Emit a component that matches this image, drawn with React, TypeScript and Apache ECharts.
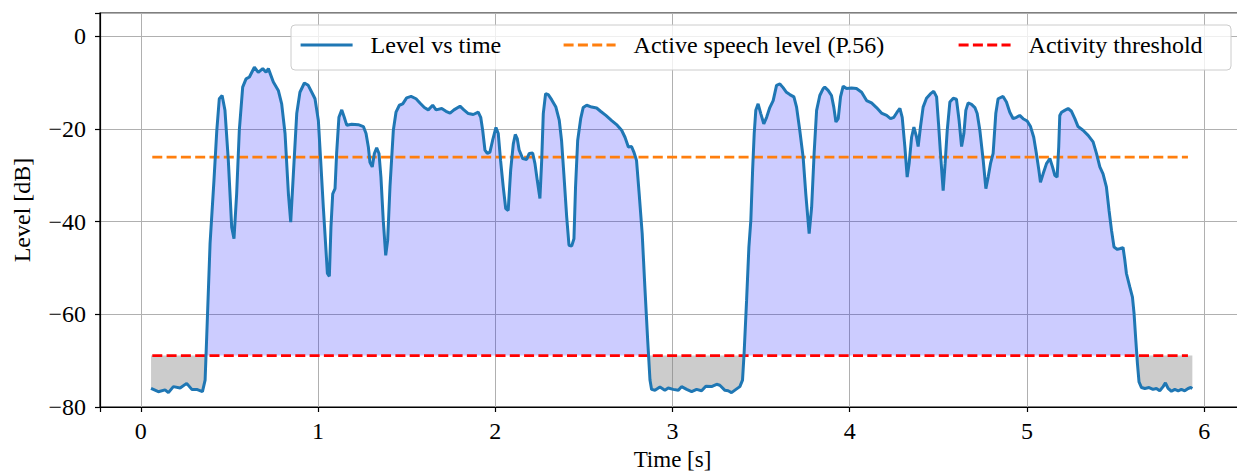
import React, { useEffect, useRef } from "react";
import * as echarts from "echarts";

const times = [
  0.058, 0.099, 0.137, 0.156, 0.184, 0.222, 0.259, 0.288, 0.316, 0.348, 0.363, 0.372, 0.391, 0.413, 0.429, 0.443, 0.459, 0.475, 0.494, 0.513,
  0.526, 0.541, 0.556, 0.575, 0.594, 0.613, 0.641, 0.663, 0.688, 0.707, 0.72, 0.748, 0.776, 0.795, 0.814, 0.833, 0.846, 0.861, 0.88, 0.898,
  0.923, 0.945, 0.974, 0.983, 1.002, 1.015, 1.03, 1.045, 1.053, 1.064, 1.073, 1.083, 1.096, 1.105, 1.118, 1.134, 1.148, 1.162, 1.19, 1.227,
  1.256, 1.271, 1.284, 1.293, 1.306, 1.318, 1.331, 1.344, 1.355, 1.368, 1.382, 1.393, 1.406, 1.425, 1.44, 1.459, 1.478, 1.5, 1.525, 1.553,
  1.575, 1.6, 1.622, 1.647, 1.666, 1.698, 1.722, 1.745, 1.767, 1.801, 1.823, 1.848, 1.876, 1.904, 1.918, 1.929, 1.942, 1.955, 1.97, 1.985,
  2.004, 2.017, 2.03, 2.045, 2.059, 2.073, 2.087, 2.102, 2.113, 2.124, 2.135, 2.155, 2.177, 2.192, 2.211, 2.224, 2.237, 2.252, 2.262, 2.271,
  2.284, 2.299, 2.318, 2.342, 2.361, 2.374, 2.387, 2.403, 2.416, 2.431, 2.444, 2.453, 2.465, 2.482, 2.496, 2.516, 2.544, 2.572, 2.594, 2.624,
  2.657, 2.688, 2.713, 2.732, 2.751, 2.769, 2.782, 2.797, 2.812, 2.829, 2.844, 2.86, 2.873, 2.882, 2.901, 2.929, 2.957, 2.976, 3.004, 3.033,
  3.051, 3.08, 3.108, 3.136, 3.164, 3.188, 3.22, 3.249, 3.267, 3.296, 3.314, 3.333, 3.358, 3.38, 3.395, 3.404, 3.418, 3.431, 3.442, 3.452,
  3.461, 3.47, 3.483, 3.498, 3.515, 3.531, 3.549, 3.568, 3.587, 3.606, 3.624, 3.643, 3.662, 3.685, 3.7, 3.718, 3.737, 3.752, 3.771, 3.785,
  3.799, 3.813, 3.831, 3.85, 3.859, 3.878, 3.897, 3.91, 3.922, 3.935, 3.948, 3.963, 3.982, 4.01, 4.038, 4.067, 4.095, 4.123, 4.151, 4.179,
  4.208, 4.23, 4.249, 4.267, 4.283, 4.296, 4.311, 4.324, 4.335, 4.349, 4.362, 4.377, 4.386, 4.399, 4.414, 4.433, 4.456, 4.474, 4.49, 4.501,
  4.512, 4.527, 4.538, 4.55, 4.565, 4.584, 4.602, 4.617, 4.631, 4.644, 4.655, 4.668, 4.687, 4.706, 4.719, 4.734, 4.753, 4.768, 4.781, 4.794,
  4.809, 4.824, 4.837, 4.865, 4.884, 4.903, 4.922, 4.941, 4.959, 4.978, 5.001, 5.02, 5.038, 5.053, 5.067, 5.076, 5.091, 5.11, 5.129, 5.144,
  5.157, 5.17, 5.179, 5.185, 5.195, 5.213, 5.232, 5.251, 5.27, 5.288, 5.316, 5.345, 5.373, 5.392, 5.411, 5.429, 5.448, 5.463, 5.477, 5.491,
  5.51, 5.527, 5.542, 5.552, 5.561, 5.58, 5.595, 5.604, 5.614, 5.623, 5.632, 5.646, 5.665, 5.689, 5.711, 5.73, 5.749, 5.768, 5.781, 5.796,
  5.815, 5.834, 5.853, 5.871, 5.89, 5.909, 5.924, 5.933,
];

const levels = [
  -76.0, -76.7, -76.3, -76.9, -75.6, -75.9, -74.9, -76.2, -76.2, -76.7, -74.2, -64.9, -44.7, -31.1, -20.3, -13.5, -12.8, -16.0, -26.8, -41.2,
  -43.7, -34.0, -20.3, -11.0, -9.2, -8.8, -6.7, -7.8, -7.0, -7.8, -7.0, -9.9, -11.7, -14.6, -21.0, -34.0, -40.1, -29.7, -16.7, -12.1,
  -10.1, -10.6, -12.8, -13.5, -18.2, -26.8, -36.9, -46.2, -51.2, -51.8, -41.2, -34.0, -32.9, -25.3, -17.5, -15.9, -17.5, -19.2, -19.0, -19.1,
  -19.5, -21.0, -23.9, -27.2, -28.2, -25.3, -24.1, -25.3, -30.4, -39.7, -47.3, -44.0, -32.5, -20.3, -16.4, -14.9, -14.6, -13.3, -13.0, -13.5,
  -14.4, -15.4, -15.9, -14.9, -15.9, -15.6, -16.2, -16.6, -15.9, -15.1, -15.9, -16.7, -16.9, -16.4, -17.5, -20.3, -24.6, -25.3, -25.0, -22.5,
  -19.7, -21.0, -26.8, -32.5, -37.2, -37.6, -28.9, -23.2, -21.2, -22.1, -24.6, -26.4, -26.6, -25.3, -25.2, -27.5, -31.1, -35.0, -26.8, -16.7,
  -12.4, -12.6, -13.7, -15.3, -18.1, -22.5, -29.7, -39.0, -45.1, -45.3, -43.7, -32.5, -22.5, -17.8, -15.4, -14.9, -15.3, -15.5, -16.2, -17.1,
  -18.2, -19.2, -20.3, -21.8, -23.9, -23.8, -25.0, -26.8, -34.0, -42.6, -54.1, -65.6, -74.2, -76.2, -76.4, -75.7, -76.4, -75.9, -76.2, -76.4,
  -75.6, -76.2, -76.7, -76.2, -76.5, -75.5, -75.6, -75.1, -75.3, -76.4, -76.5, -76.9, -76.2, -75.6, -74.2, -68.4, -57.0, -45.5, -39.7, -28.9,
  -21.0, -16.0, -14.6, -16.7, -18.9, -17.5, -15.4, -13.9, -10.6, -10.3, -11.1, -12.1, -12.6, -13.1, -15.3, -20.3, -26.1, -34.0, -42.6, -36.9,
  -25.3, -16.0, -12.8, -11.3, -11.0, -11.7, -12.8, -15.3, -18.5, -17.8, -13.1, -10.8, -11.3, -11.2, -11.3, -12.1, -13.9, -14.4, -15.4, -16.6,
  -17.1, -17.8, -17.5, -16.4, -15.6, -17.5, -23.9, -30.4, -27.5, -21.8, -19.6, -21.8, -23.8, -19.6, -15.3, -13.4, -12.4, -11.9, -13.1, -18.9,
  -25.3, -33.3, -27.5, -20.3, -14.2, -13.4, -13.6, -18.2, -23.8, -21.0, -16.0, -14.4, -14.7, -15.4, -16.7, -20.3, -26.8, -32.9, -30.4, -27.5,
  -25.3, -16.7, -13.5, -13.0, -14.2, -16.4, -17.8, -17.5, -17.1, -17.8, -18.3, -19.5, -21.8, -25.3, -28.9, -31.5, -29.7, -27.5, -26.4, -28.2,
  -30.0, -30.4, -23.9, -17.1, -16.4, -16.0, -15.6, -16.2, -17.8, -19.5, -20.3, -21.4, -22.8, -25.3, -28.2, -29.7, -32.5, -37.6, -41.9, -45.5,
  -46.0, -45.8, -45.6, -48.3, -51.2, -54.1, -56.3, -59.8, -65.6, -70.6, -74.6, -75.8, -76.0, -75.8, -76.2, -76.0, -76.5, -75.6, -74.8, -76.0,
  -76.6, -76.2, -76.5, -76.2, -76.5, -76.0, -75.8, -76.0,
];

const activeSpeechLevel = -26.1;
const activityThreshold = -68.9;
const refLineSpan = [0.065, 5.908];
const yTicks = [-80, -60, -40, -20, 0];
const xTicks = [0, 1, 2, 3, 4, 5, 6];

const legendNames = ["Level vs time", "Active speech level (P.56)", "Activity threshold"];

const FONT = "'Liberation Serif', 'Times New Roman', serif";

export default function App() {
  const ref = useRef<HTMLDivElement>(null);

  useEffect(() => {
    if (!ref.current) return;
    const chart = echarts.init(ref.current, undefined, { renderer: "svg" });

    const curve = times.map((t, i) => [t, levels[i]]);
    const above = times.map((t, i) => [t, Math.max(levels[i], activityThreshold)]);
    const below = times.map((t, i) => [t, Math.min(levels[i], activityThreshold)]);
    const minus = (v: number) => (v < 0 ? "\u2212" + Math.abs(v) : String(v));

    const legendBase = {
      orient: "horizontal",
      itemWidth: 52,
      itemHeight: 14,
      top: 33,
      padding: 0,
      z: 20,
      itemStyle: { opacity: 0, borderWidth: 0 },
      lineStyle: { width: 3.2 },
      textStyle: { fontFamily: FONT, fontSize: 24, color: "#000", padding: [0, 0, 0, 13] },
      selectedMode: false,
    };

    chart.setOption({
      animation: false,
      backgroundColor: "#fff",
      grid: {
        left: 100,
        right: -8,
        top: 13,
        bottom: 66,
        show: true,
        containLabel: false,
        outerBoundsMode: "none",
        borderColor: "#000",
        borderWidth: 1.2,
        backgroundColor: "transparent",
      },
      graphic: [
        {
          type: "rect",
          z: 15,
          shape: { x: 291, y: 25, width: 940, height: 45, r: 4 },
          style: { fill: "rgba(255,255,255,0.8)", stroke: "#cccccc", lineWidth: 1 },
        },
      ],
      legend: [
        { ...legendBase, left: 299, data: [legendNames[0]] },
        { ...legendBase, left: 562, data: [legendNames[1]] },
        { ...legendBase, left: 957, data: [legendNames[2]] },
      ],
      xAxis: {
        type: "value",
        min: -0.23,
        max: 6.23,
        splitNumber: 6,
        minInterval: 1,
        maxInterval: 1,
        name: "Time [s]",
        nameLocation: "middle",
        nameGap: 40,
        nameTextStyle: { fontFamily: FONT, fontSize: 23, color: "#000" },
        axisLine: { show: true, onZero: false, lineStyle: { color: "#000", width: 1.2 } },
        axisTick: { show: true, length: 5, lineStyle: { color: "#000", width: 1.2 } },
        axisLabel: {
          fontFamily: FONT,
          fontSize: 24,
          color: "#000",
          margin: 12,
          formatter: (v: number) => (xTicks.includes(Math.round(v * 1000) / 1000) ? String(v) : ""),
        },
        splitLine: { show: true, lineStyle: { color: "#b0b0b0", width: 1 } },
      },
      yAxis: {
        type: "value",
        min: -80,
        max: 5,
        interval: 20,
        name: "Level [dB]",
        nameLocation: "middle",
        nameGap: 66,
        nameTextStyle: { fontFamily: FONT, fontSize: 24, color: "#000" },
        axisLine: { show: true, onZero: false, lineStyle: { color: "#000", width: 1.2 } },
        axisTick: { show: true, length: 5, lineStyle: { color: "#000", width: 1.2 } },
        axisLabel: {
          fontFamily: FONT,
          fontSize: 24,
          color: "#000",
          margin: 14,
          formatter: (v: number) => (yTicks.includes(v) ? minus(v) : ""),
        },
        splitLine: { show: true, lineStyle: { color: "#b0b0b0", width: 1 } },
      },
      series: [
        {
          type: "line",
          name: "fill-active",
          data: above,
          showSymbol: false,
          silent: true,
          lineStyle: { width: 0, opacity: 0 },
          areaStyle: { color: "rgba(0,0,255,0.2)", origin: activityThreshold, opacity: 1 },
          z: 1,
        },
        {
          type: "line",
          name: "fill-inactive",
          data: below,
          showSymbol: false,
          silent: true,
          lineStyle: { width: 0, opacity: 0 },
          areaStyle: { color: "rgba(128,128,128,0.4)", origin: activityThreshold, opacity: 1 },
          z: 1,
        },
        {
          type: "line",
          name: legendNames[1],
          data: refLineSpan.map((t) => [t, activeSpeechLevel]),
          showSymbol: false,
          symbol: "none",
          lineStyle: { color: "#ff7f0e", width: 2.8, type: [10, 4.3] },
          itemStyle: { color: "#ff7f0e" },
          z: 3,
        },
        {
          type: "line",
          name: legendNames[2],
          data: refLineSpan.map((t) => [t, activityThreshold]),
          showSymbol: false,
          symbol: "none",
          lineStyle: { color: "#ff0000", width: 2.8, type: [10, 4.3] },
          itemStyle: { color: "#ff0000" },
          z: 3,
        },
        {
          type: "line",
          name: legendNames[0],
          data: curve,
          showSymbol: false,
          symbol: "none",
          lineStyle: { color: "#1f77b4", width: 3 },
          itemStyle: { color: "#1f77b4" },
          z: 4,
        },
      ],
    });

    return () => chart.dispose();
  }, []);

  return (
    <div
      ref={ref}
      style={{ position: "absolute", left: 0, top: 0, width: 1237, height: 473 }}
    />
  );
}
